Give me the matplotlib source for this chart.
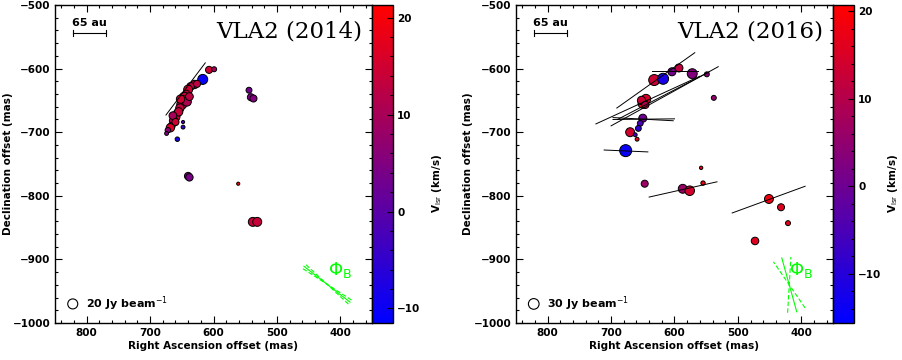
import numpy as np
import matplotlib
matplotlib.use('Agg')
import matplotlib.pyplot as plt
from matplotlib.colors import LinearSegmentedColormap, Normalize
from matplotlib.ticker import MultipleLocator

# ---- 2014 epoch: maser spots (RA offset, Dec offset in mas, Vlsr km/s, peak Jy/beam)
ra14 = [617, 607, 599, 630, 636, 640, 643, 646, 648, 650, 653, 657, 660, 663, 666,
        660, 668, 672, 674, 648, 648, 657, 544, 541, 537, 640, 638, 561, 538, 531,
        642, 652, 638, 655, 664, 660, 626]
dec14 = [-617, -602, -601, -625, -628, -633, -640, -645, -650, -656, -662, -670, -676, -682, -690,
         -686, -693, -697, -702, -692, -684, -711, -634, -645, -647, -769, -771, -781, -841, -841,
         -652, -648, -644, -668, -674, -684, -624]
v14 = [-10, 15, 10, 14, 12, 15, 13, 15, 12, 14, 13, 15, 14, 12, 13,
       3, 16, 6, 5, -5, -3, -8, 3, 4, 5, 5, 4, 19, 14, 14,
       11, 15, 13, 14, 10, 15, 13]
flux14 = [20, 10, 5, 14, 12, 16, 12, 20, 18, 20, 14, 12, 16, 14, 10,
          4, 14, 6, 3, 3, 2, 4, 7, 10, 10, 11, 11, 2, 16, 16,
          16, 14, 12, 14, 12, 10, 10]
# polarization vectors (x1, y1, x2, y2)
vec14 = [(675, -673, 613, -591)]

# ---- 2016 epoch
ra16 = [593, 604, 572, 549, 632, 618, 538, 645, 650, 652, 646, 650, 654, 657,
        670, 662, 659, 677, 558, 647, 587, 576, 555, 451, 432, 421, 473]
dec16 = [-599, -605, -608, -609, -618, -616, -646, -648, -655, -650, -657, -678, -686, -694,
         -700, -704, -711, -729, -756, -781, -789, -792, -780, -805, -818, -843, -871]
v16 = [12, 1, 3, 4, 13, -12, 5, 15, 17, 13, 10, 0, -5, -9,
       14, -6, 18, -14, 18, 6, 6, 14, 18, 18, 16, 17, 16]
flux16 = [17, 17, 26, 6.5, 32, 32, 6.5, 24, 24, 18, 14, 17, 9, 9,
          21, 4, 4, 38, 3, 13, 21, 24, 5, 21, 13, 6.5, 15]
vec16 = [(691, -662, 568, -575), (724, -687, 560, -612), (700, -690, 531, -597),
         (690, -680, 545, -605), (636, -604, 563, -604), (697, -677, 602, -682),
         (697, -680, 600, -679), (711, -728, 642, -731), (640, -802, 533, -778),
         (509, -827, 394, -785)]

# magnetic field angle on the sky (deg from +x data axis) and error
phiB14, dphiB14 = 37.8, 5.0
phiB16, dphiB16 = 74.4, 19.0

panels = [
    dict(ra=ra14, dec=dec14, v=v14, flux=flux14, vec=vec14, phi=phiB14, dphi=dphiB14,
         vlim=(-11.5, 21.3), ref=20, sref=52, title='VLA2 (2014)', center=(421, -939),
         blen=92, ax=[55, 372], cax=[372, 393], lab=437, ylab=8),
    dict(ra=ra16, dec=dec16, v=v16, flux=flux16, vec=vec16, phi=phiB16, dphi=dphiB16,
         vlim=(-15.6, 20.7), ref=30, sref=59, title='VLA2 (2016)', center=(419, -940),
         blen=88, ax=[516, 833], cax=[833, 854], lab=893, ylab=468),
]

cmap = LinearSegmentedColormap.from_list('br', ['#0000ff', '#ff0000'], N=64)
W, H = 903, 360
fig = plt.figure(figsize=(W / 100, H / 100), dpi=100)
tfont = dict(family='DejaVu Sans', weight='bold', size=7.5)
lfont = dict(family='DejaVu Sans', weight='bold', size=8)

for p in panels:
    x0, x1 = p['ax']
    ax = fig.add_axes([x0 / W, 37 / H, (x1 - x0) / W, 318 / H])
    c0, c1 = p['cax']
    cax = fig.add_axes([c0 / W, 37 / H, (c1 - c0) / W, 318 / H])

    norm = Normalize(*p['vlim'])
    s = np.array(p['flux']) * p['sref'] / p['ref']
    ax.scatter(p['ra'], p['dec'], s=s, c=p['v'], cmap=cmap, norm=norm,
               edgecolors='black', linewidths=0.7, zorder=2)
    for (xa, ya, xb, yb) in p['vec']:
        ax.plot([xa, xb], [ya, yb], color='black', lw=0.7, zorder=3)

    # magnetic field direction with its error fan
    cx, cy = p['center']
    L = p['blen'] / 2
    for ang, ls in [(p['phi'], '-'), (p['phi'] - p['dphi'], '--'), (p['phi'] + p['dphi'], '--')]:
        dx, dy = L * np.cos(np.radians(ang)), L * np.sin(np.radians(ang))
        ax.plot([cx - dx, cx + dx], [cy - dy, cy + dy], color='#00ff00', lw=0.8, ls=ls,
                dashes=(4, 2) if ls == '--' else (None, None), zorder=3)
    ax.text(419, -916, r'$\Phi_{\rm B}$', color='#00ff00', fontsize=13,
            family='DejaVu Serif', ha='left', va='center')

    # flux scale and linear scale bar
    ax.scatter([822], [-970], s=p['sref'], facecolors='none', edgecolors='black', linewidths=0.8)
    ax.text(801, -970, '%d Jy beam$^{-1}$' % p['ref'], ha='left', va='center', **lfont)
    ax.plot([822, 770], [-544, -544], color='black', lw=0.8)
    ax.plot([822, 822], [-540, -548], color='black', lw=0.8)
    ax.plot([770, 770], [-540, -548], color='black', lw=0.8)
    ax.text(796, -528, '65 au', ha='center', va='center', **lfont)
    ax.text(0.968, 0.918, p['title'], transform=ax.transAxes, ha='right', va='center',
            family='DejaVu Serif', fontsize=16.5)

    ax.set_xlim(850, 350)
    ax.set_ylim(-1000, -500)
    ax.xaxis.set_minor_locator(MultipleLocator(20))
    ax.yaxis.set_minor_locator(MultipleLocator(20))
    ax.tick_params(which='both', direction='in', top=True, right=True, width=0.8)
    ax.tick_params(which='major', length=5)
    ax.tick_params(which='minor', length=2.5)
    ax.set_xticks([800, 700, 600, 500, 400])
    ax.set_yticks([-1000, -900, -800, -700, -600, -500])
    ax.set_xticklabels(['800', '700', '600', '500', '400'], **tfont)
    ax.set_yticklabels(['\u22121000', '\u2212900', '\u2212800', '\u2212700', '\u2212600', '\u2212500'], **tfont)
    ax.set_xlabel('Right Ascension offset (mas)', labelpad=2, **tfont)
    fig.text(p['ylab'] / W, 1 - 164 / H, 'Declination offset (mas)', rotation=90,
             ha='center', va='center', **tfont)
    for sp in ax.spines.values():
        sp.set_linewidth(1.0)

    cb = fig.colorbar(plt.cm.ScalarMappable(norm=norm, cmap=cmap), cax=cax)
    cb.outline.set_linewidth(1.0)
    cb.set_ticks([-10, 0, 10, 20])
    cb.set_ticklabels(['\u221210', '0', '10', '20'])
    cax.yaxis.set_minor_locator(MultipleLocator(2))
    cax.tick_params(which='both', direction='in', width=0.8, pad=3)
    cax.tick_params(which='major', length=4)
    cax.tick_params(which='minor', length=2)
    for lab in cax.get_yticklabels():
        lab.set_fontweight('bold')
        lab.set_fontsize(7.5)
    fig.text(p['lab'] / W, 1 - 183 / H, r'V$_{\rm lsr}$ (km/s)', rotation=90,
             ha='center', va='center', **tfont)

fig.savefig('out.png', dpi=100)
